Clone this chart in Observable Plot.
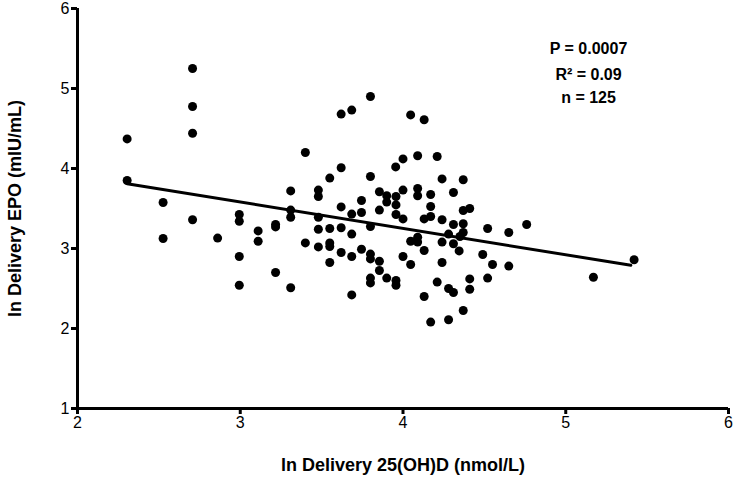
<!DOCTYPE html>
<html>
<head>
<meta charset="utf-8">
<script src="https://cdn.jsdelivr.net/npm/d3@7"></script>
<script src="https://cdn.jsdelivr.net/npm/@observablehq/plot@0.6"></script>
<style>
  body { margin: 0; background: #fff; }
  svg { font-family: "Liberation Sans", Arial, sans-serif; }
  g[aria-label="x-axis tick"], g[aria-label="y-axis tick"] { stroke-width: 3px; }
</style>
</head>
<body>
<div id="chart"></div>
<script>
const vitD = [2.305,2.305,2.526,2.526,2.707,2.707,2.707,2.707,2.861,2.994,2.994,2.994,2.994,3.11,3.11,3.217,3.217,3.217,3.31,3.31,3.31,3.31,3.40,3.40,3.80,3.62,3.685,4.047,4.13,3.62,3.55,3.80,3.955,4.00,4.09,4.21,4.24,4.37,3.48,3.48,3.745,3.855,3.90,3.957,4.00,4.09,4.09,4.17,4.31,3.90,3.957,3.62,4.17,3.855,3.685,3.745,4.37,4.41,3.957,4.00,4.13,4.17,4.24,3.48,4.31,4.37,3.48,3.55,3.62,3.685,3.80,3.48,3.55,3.55,3.62,3.685,3.745,3.80,3.80,3.855,3.55,3.855,3.90,3.957,3.957,3.80,3.80,3.685,4.00,4.047,4.047,4.09,4.09,4.13,4.24,4.31,4.28,4.35,4.37,4.345,4.24,4.21,4.28,4.31,4.41,4.41,4.13,4.37,4.17,4.28,4.52,4.65,4.76,4.49,4.55,4.65,4.52,5.17,5.42];
const epo = [4.37,3.85,3.575,3.125,5.25,4.775,4.44,3.36,3.13,3.425,3.34,2.90,2.54,3.22,3.09,3.30,3.27,2.70,3.72,3.48,3.39,2.51,3.07,4.20,4.90,4.68,4.73,4.67,4.61,4.01,3.88,3.90,4.02,4.12,4.16,4.15,3.87,3.86,3.73,3.65,3.60,3.71,3.66,3.65,3.73,3.75,3.66,3.675,3.70,3.58,3.545,3.52,3.525,3.48,3.43,3.45,3.475,3.50,3.425,3.37,3.37,3.40,3.36,3.39,3.30,3.31,3.24,3.25,3.26,3.18,3.275,3.02,3.07,3.025,2.95,2.90,2.99,2.93,2.87,2.84,2.825,2.725,2.63,2.60,2.54,2.63,2.57,2.42,2.90,2.80,3.09,3.14,3.08,2.975,3.08,3.06,3.18,3.15,3.20,2.97,2.825,2.58,2.50,2.45,2.62,2.49,2.40,2.225,2.08,2.11,3.25,3.20,3.30,2.925,2.80,2.78,2.63,2.64,2.86];
const fitX = [2.305, 5.40];
const fitY = [3.81, 2.79];
const xTicks = [2, 3, 4, 5, 6];
const yTicks = [1, 2, 3, 4, 5, 6];
const xTitle = "ln Delivery 25(OH)D (nmol/L)";
const yTitle = "ln Delivery EPO (mIU/mL)";
const statLines = ["P = 0.0007", "R\u00B2 = 0.09", "n = 125"];
const statX = 5.14;
const statY = [5.49, 5.175, 4.885];

const points = vitD.map((x, i) => ({x, y: epo[i]}));
const fit = fitX.map((x, i) => ({x, y: fitY[i]}));
const stats = statLines.map((t, i) => ({t, x: statX, y: statY[i]}));

const chart = Plot.plot({
  width: 734,
  height: 486,
  marginLeft: 77,
  marginRight: 6,
  marginTop: 8,
  marginBottom: 78,
  style: {fontFamily: '"Liberation Sans", Arial, sans-serif', background: "#fff", color: "#000"},
  x: {domain: [2, 6]},
  y: {domain: [1, 6]},
  marks: [
    Plot.axisX({ticks: xTicks, tickFormat: "d", tickSize: 6, tickPadding: 2, fontSize: 16, label: null}),
    Plot.axisY({ticks: yTicks, tickFormat: "d", tickSize: 6, tickPadding: 2, fontSize: 16, label: null}),
    Plot.ruleX([2], {strokeWidth: 3}),
    Plot.ruleY([1], {strokeWidth: 3}),
    Plot.dot(points, {x: "x", y: "y", r: 4.5, fill: "#000", stroke: "none"}),
    Plot.line(fit, {x: "x", y: "y", stroke: "#000", strokeWidth: 3}),
    Plot.text(stats, {x: "x", y: "y", text: "t", fontSize: 16, fontWeight: "bold", fill: "#000"}),
    Plot.text([xTitle], {frameAnchor: "bottom", dy: 62, fontSize: 18, fontWeight: "bold", fill: "#000"}),
    Plot.text([yTitle], {frameAnchor: "left", textAnchor: "middle", dx: -62, rotate: -90, fontSize: 18, fontWeight: "bold", fill: "#000"})
  ]
});
document.getElementById("chart").appendChild(chart);
</script>
</body>
</html>
